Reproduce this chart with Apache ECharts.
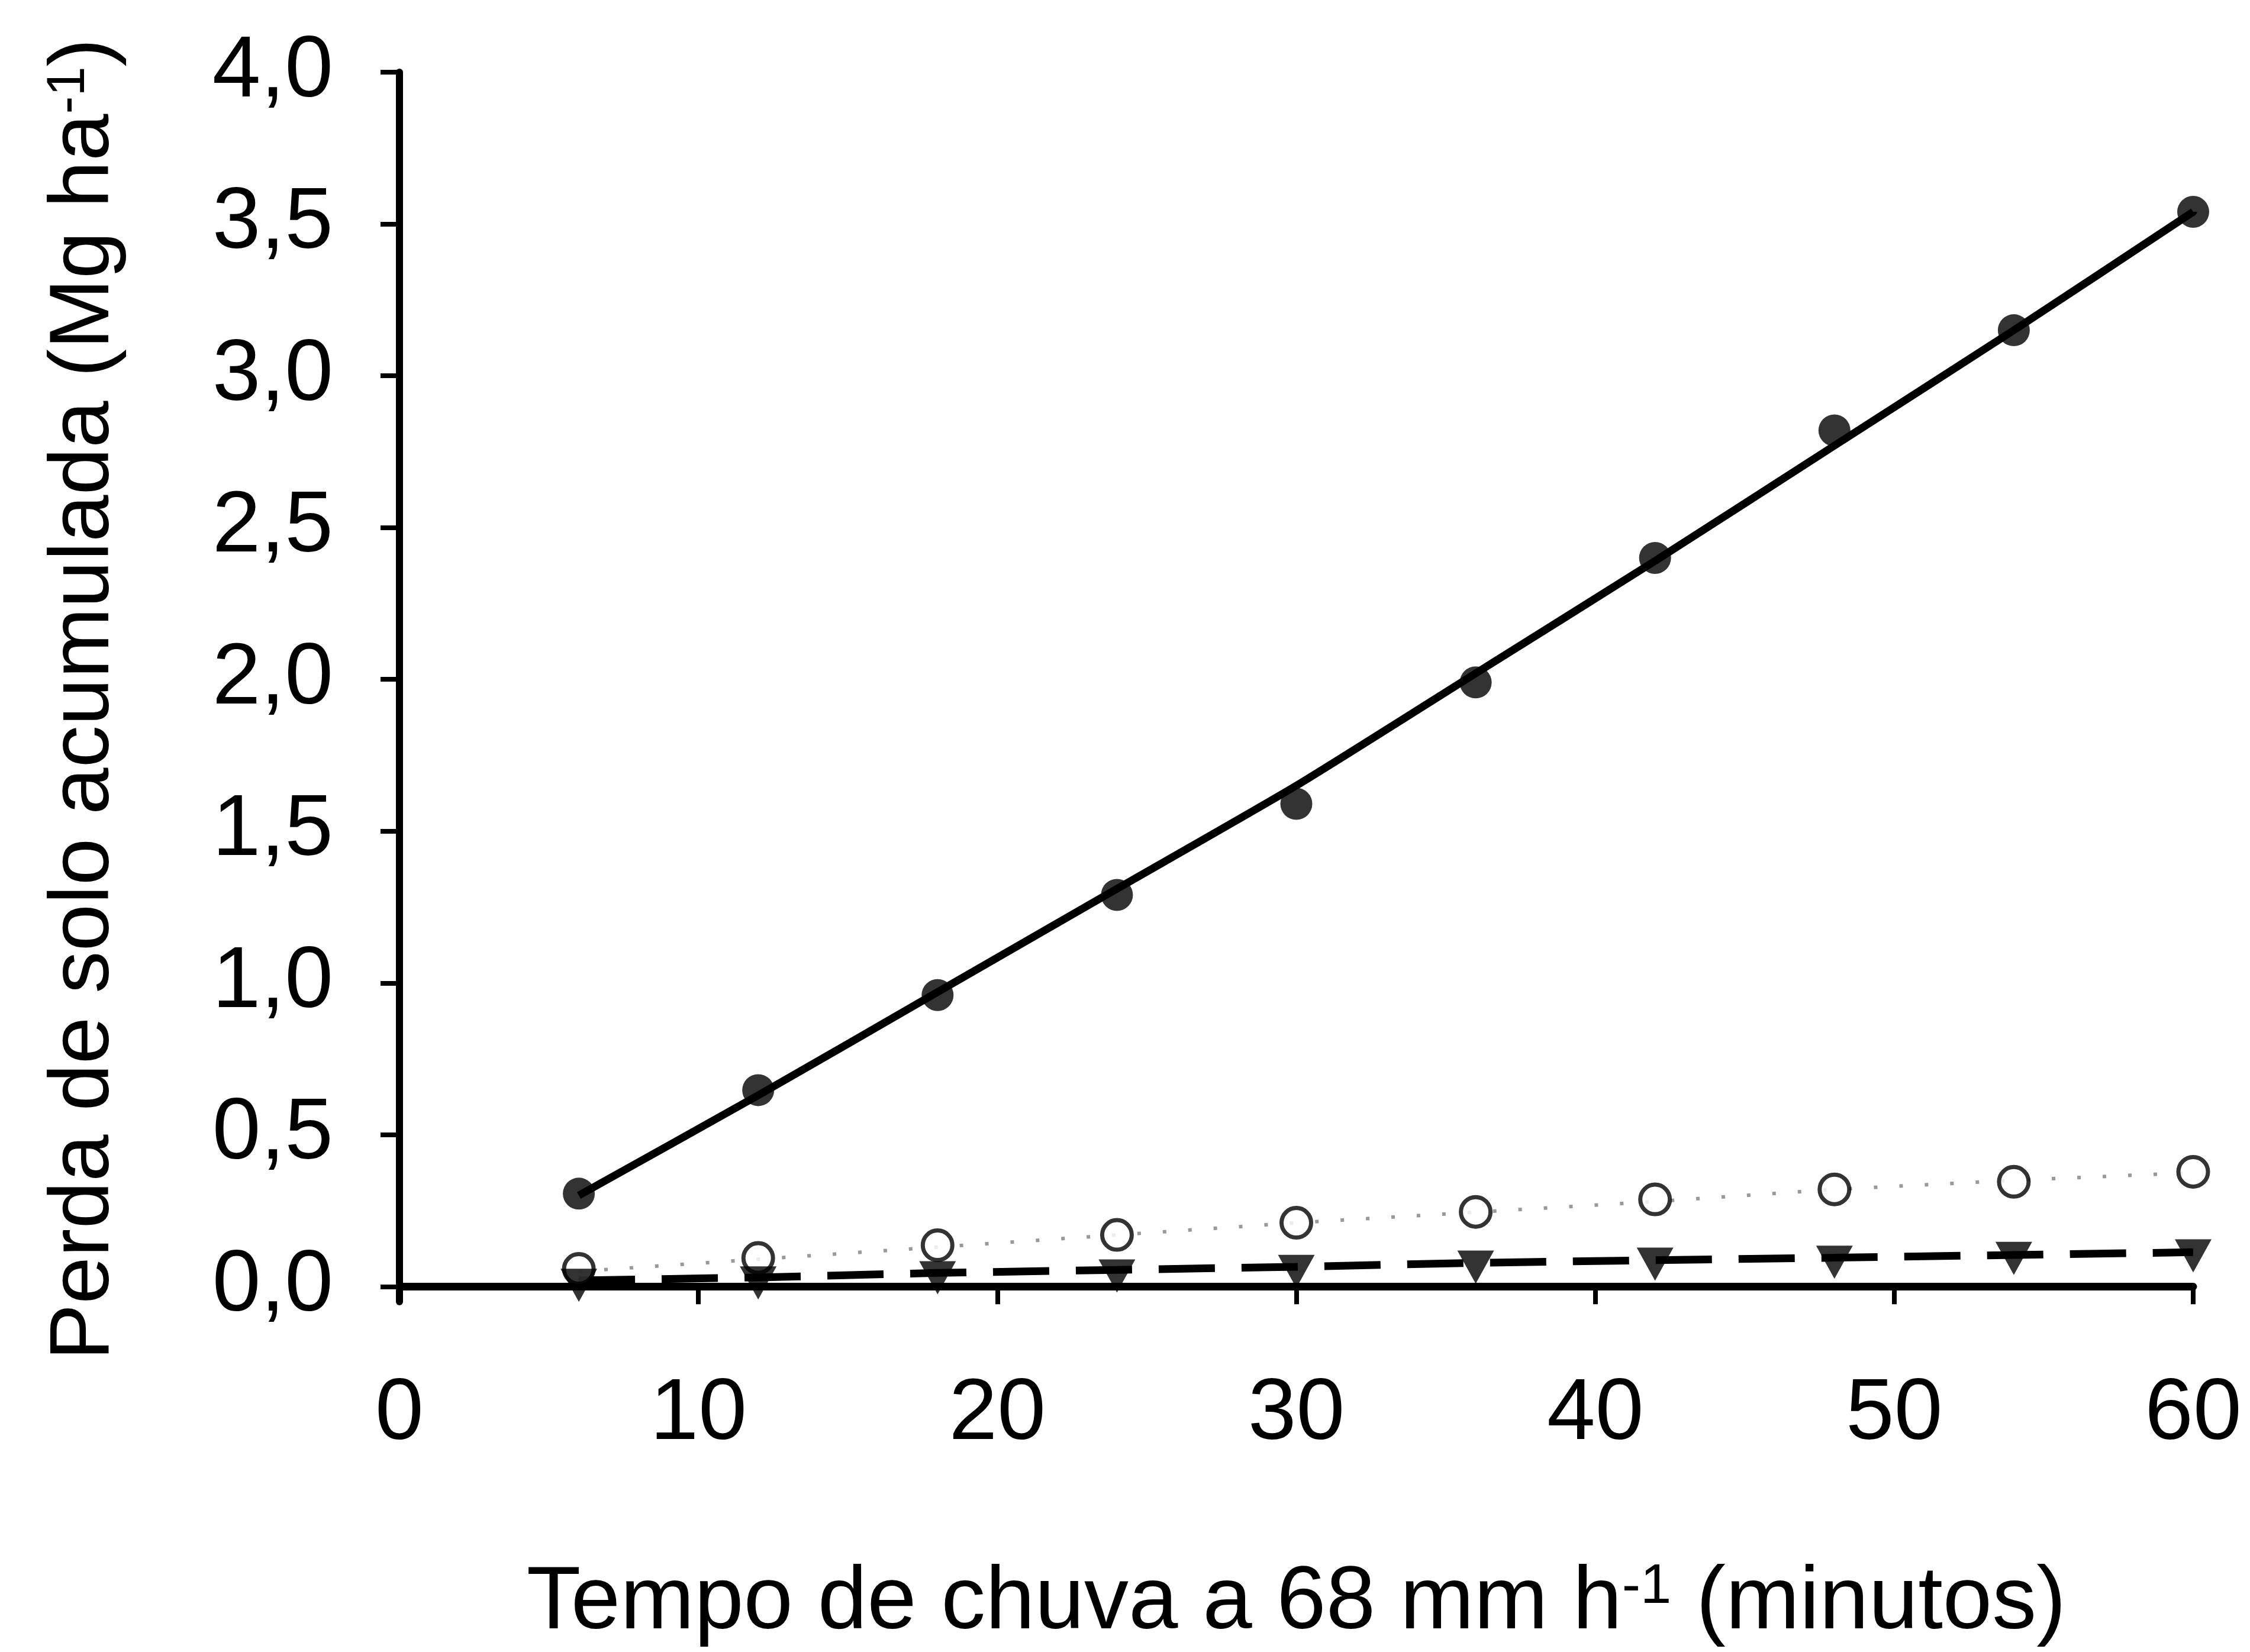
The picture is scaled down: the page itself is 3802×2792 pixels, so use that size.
<!DOCTYPE html>
<html>
<head>
    <meta charset="utf-8" />
    <title>Perda de solo acumulada</title>
    <script src="https://cdn.jsdelivr.net/npm/echarts@6.0.0/dist/echarts.min.js"></script>
    <style>
        html, body { margin: 0; padding: 0; background: #fff; }
        #grafico { width: 3802px; height: 2792px; }
    </style>
</head>
<body>
<div id="grafico"></div>

<script>
    // eixo x: tempo de chuva (minutos)
    var tempos = [6, 12, 18, 24, 30, 36, 42, 48, 54, 60];

    // pontos medidos (Mg ha-1)
    var perdaCheio = [0.306, 0.647, 0.96, 1.29, 1.59, 1.99, 2.40, 2.82, 3.15, 3.54];
    var perdaVazio = [0.058, 0.094, 0.136, 0.17, 0.21, 0.246, 0.287, 0.32, 0.345, 0.378];
    var perdaTriangulo = [0.004, 0.012, 0.029, 0.035, 0.05, 0.064, 0.074, 0.080, 0.093, 0.101];

    // curvas ajustadas
    var ajusteCheio = [0.30, 0.63, 0.97, 1.31, 1.65, 2.02, 2.39, 2.77, 3.15, 3.54];
    var ajusteVazio = [0.05, 0.09, 0.13, 0.17, 0.21, 0.245, 0.28, 0.32, 0.35, 0.375];
    var ajusteTriangulo = [0.02, 0.03, 0.045, 0.055, 0.065, 0.078, 0.087, 0.095, 0.104, 0.113];

    // marcas do eixo y
    var ticksY = [0, 0.5, 1.0, 1.5, 2.0, 2.5, 3.0, 3.5, 4.0];

    var fonte = '"Liberation Sans", Arial, Helvetica, sans-serif';

    function pares(ys) {
        return tempos.map(function (t, i) { return [t, ys[i]]; });
    }

    function richTitulo(tam, tamSup) {
        return {
            n: { fontSize: tam, lineHeight: tam, fontFamily: fonte, color: '#000' },
            sup: { fontSize: tamSup, lineHeight: 36, verticalAlign: 'top', fontFamily: fonte, color: '#000' }
        };
    }

    var option = {
        animation: false,
        backgroundColor: '#fff',
        grid: {
            left: 675,
            right: 96,
            top: 122,
            bottom: 592
        },
        xAxis: {
            type: 'value',
            min: 0,
            max: 60,
            interval: 10,
            name: '{n|Tempo de chuva a 68 mm h}{sup|-1}{n| (minutos)}',
            nameLocation: 'middle',
            nameGap: 436,
            nameTextStyle: { rich: richTitulo(150, 94) },
            axisLine: { show: true, lineStyle: { color: '#000', width: 13 } },
            axisTick: { show: true, inside: false, length: 30, lineStyle: { color: '#000', width: 8 } },
            axisLabel: { margin: 118, fontSize: 147, fontFamily: fonte, color: '#000' },
            splitLine: { show: false }
        },
        yAxis: {
            type: 'value',
            min: -0.05,
            max: 4.0,
            name: '{n|Perda de solo acumulada (Mg ha}{sup|-1}{n|)}',
            nameLocation: 'middle',
            nameGap: 460,
            nameTextStyle: { rich: richTitulo(143, 90), padding: [0, 42, 0, 0] },
            axisLine: { show: true, lineStyle: { color: '#000', width: 12 } },
            axisTick: {
                show: true, inside: false, length: 32,
                customValues: ticksY,
                lineStyle: { color: '#000', width: 8 }
            },
            axisLabel: {
                margin: 112, fontSize: 147, fontFamily: fonte, color: '#000',
                customValues: ticksY,
                formatter: function (v) { return v.toFixed(1).replace('.', ','); }
            },
            splitLine: { show: false }
        },
        series: [
            {
                type: 'line',
                data: pares(ajusteCheio),
                showSymbol: false,
                smooth: 0.2,
                lineStyle: { color: '#000', width: 13 },
                z: 2
            },
            {
                type: 'line',
                data: pares(ajusteVazio),
                showSymbol: false,
                lineStyle: { color: '#999', width: 6, type: [6, 37] },
                z: 2
            },
            {
                type: 'line',
                data: pares(ajusteTriangulo),
                showSymbol: false,
                lineStyle: { color: '#000', width: 13, type: [95, 45] },
                z: 3
            },
            {
                type: 'scatter',
                data: pares(perdaCheio),
                symbol: 'circle',
                symbolSize: 54,
                itemStyle: { color: '#000' },
                z: 4
            },
            {
                type: 'scatter',
                data: pares(perdaVazio),
                symbol: 'circle',
                symbolSize: 50,
                itemStyle: { color: '#fff', borderColor: '#000', borderWidth: 7 },
                z: 4
            },
            {
                type: 'scatter',
                data: pares(perdaTriangulo),
                symbol: 'triangle',
                symbolRotate: 180,
                symbolSize: [62, 56],
                itemStyle: { color: '#000' },
                z: 5
            }
        ]
    };

    var grafico = echarts.init(document.getElementById('grafico'));
    grafico.setOption(option);
</script>
</body>
</html>
